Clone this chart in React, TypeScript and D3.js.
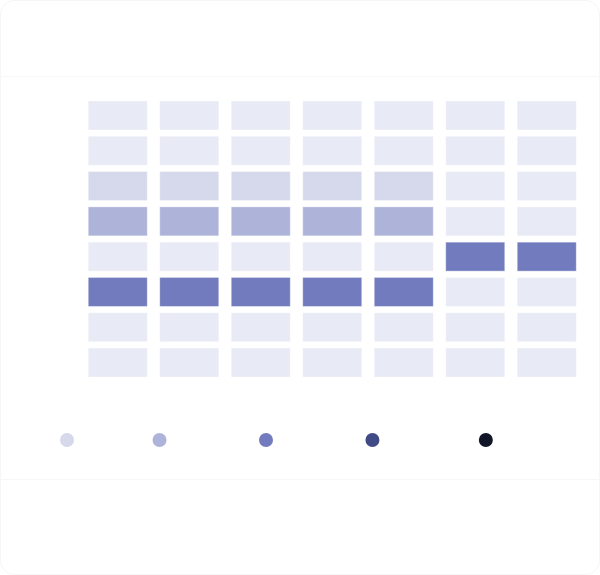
import React, { useEffect, useRef } from 'react';
import * as d3 from 'd3';

// heatmap: 7 columns x 8 rows, value = colour level (0 = empty)
const columns = ['Mon', 'Tue', 'Wed', 'Thu', 'Fri', 'Sat', 'Sun'];
const rows = ['r1', 'r2', 'r3', 'r4', 'r5', 'r6', 'r7', 'r8'];
const mon = [0, 0, 1, 2, 0, 3, 0, 0];
const tue = [0, 0, 1, 2, 0, 3, 0, 0];
const wed = [0, 0, 1, 2, 0, 3, 0, 0];
const thu = [0, 0, 1, 2, 0, 3, 0, 0];
const fri = [0, 0, 1, 2, 0, 3, 0, 0];
const sat = [0, 0, 0, 0, 3, 0, 0, 0];
const sun = [0, 0, 0, 0, 3, 0, 0, 0];
const seriesValues = [mon, tue, wed, thu, fri, sat, sun];

const levels = [0, 1, 2, 3, 4, 5];
const levelColors = ['#e8eaf5', '#d6d9ec', '#aeb4d9', '#717bbd', '#404a87', '#111528'];
const legendLevels = [1, 2, 3, 4, 5];
const legendLabels = ['0 - 1', '1 - 100', '10 - 50', '10 - 100', '100+'];

interface Cell {
  col: string;
  row: string;
  value: number;
}

const W = 600;
const H = 575;

const App = () => {
  const svgRef = useRef<SVGSVGElement>(null);

  useEffect(() => {
    document.body.style.margin = '0';
    const svg = d3.select(svgRef.current);
    svg.selectAll('*').remove();

    // card
    svg
      .append('rect')
      .attr('x', 0.5)
      .attr('y', 0.5)
      .attr('width', W - 1)
      .attr('height', H - 1)
      .attr('rx', 14)
      .attr('fill', '#fff')
      .attr('stroke', '#f6f6f7');
    svg.append('line').attr('x1', 0).attr('x2', W).attr('y1', 76.5).attr('y2', 76.5).attr('stroke', '#f7f7f8');
    svg.append('line').attr('x1', 0).attr('x2', W).attr('y1', 479.5).attr('y2', 479.5).attr('stroke', '#f7f7f8');

    const x = d3.scaleBand<string>().domain(columns).range([82, 582.5]).paddingInner(0.175).paddingOuter(0.0875);
    const y = d3.scaleBand<string>().domain(rows).range([97.8, 380.2]).paddingInner(0.18).paddingOuter(0.09);
    const color = d3.scaleOrdinal<number, string>().domain(levels).range(levelColors);

    const cells: Cell[] = [];
    columns.forEach((c, i) => {
      rows.forEach((r, j) => {
        cells.push({ col: c, row: r, value: seriesValues[i][j] });
      });
    });

    svg
      .append('g')
      .selectAll('rect')
      .data(cells)
      .join('rect')
      .attr('x', (d) => x(d.col)!)
      .attr('y', (d) => y(d.row)!)
      .attr('width', x.bandwidth())
      .attr('height', y.bandwidth())
      .attr('fill', (d) => color(d.value))
      .attr('stroke', '#ffffff')
      .attr('stroke-opacity', 0.35)
      .attr('stroke-width', 1);

    // legend: dot + (white) label, laid out by measured label width
    const legend = svg.append('g').attr('transform', 'translate(67,440)');
    let offset = 0;
    legendLevels.forEach((lv, i) => {
      const g = legend.append('g').attr('transform', `translate(${offset},0)`);
      g.append('circle').attr('r', 7).attr('fill', color(lv));
      const t = g
        .append('text')
        .attr('x', 13)
        .attr('dy', '0.35em')
        .attr('font-family', 'Lato, sans-serif')
        .attr('font-size', 12)
        .attr('fill', '#ffffff')
        .text(legendLabels[i]);
      const tw = (t.node() as SVGTextElement).getComputedTextLength();
      offset += 13 + tw + 55;
    });
  }, []);

  return <svg ref={svgRef} width={W} height={H} style={{ display: 'block' }} />;
};

export default App;
